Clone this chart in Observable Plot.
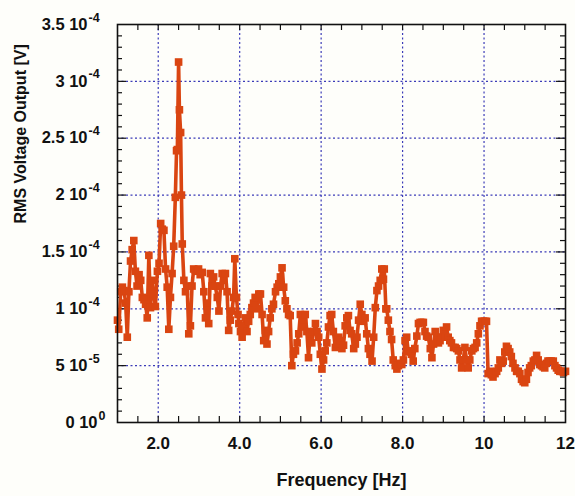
<!DOCTYPE html>
<html>
<head>
<meta charset="utf-8">
<script src="https://cdn.jsdelivr.net/npm/d3@7"></script>
<script src="https://cdn.jsdelivr.net/npm/@observablehq/plot@0.6"></script>
<style>
  html, body { margin: 0; padding: 0; background: #fefefa; }
</style>
</head>
<body>
<script>
// Frequency [Hz]
const freq = [
  1.00, 1.03, 1.08, 1.12, 1.16, 1.20, 1.24, 1.28, 1.32, 1.36, 1.40, 1.44, 1.48, 1.53, 1.57, 1.61, 1.65, 1.69, 1.73, 1.77,
  1.81, 1.85, 1.89, 1.93, 1.98, 2.02, 2.06, 2.10, 2.14, 2.18, 2.22, 2.26, 2.30, 2.34, 2.38, 2.42, 2.45, 2.47, 2.50, 2.52,
  2.55, 2.57, 2.59, 2.63, 2.67, 2.71, 2.75, 2.79, 2.83, 2.87, 2.91, 2.95, 2.99, 3.03, 3.08, 3.12, 3.16, 3.20, 3.24, 3.28,
  3.32, 3.36, 3.40, 3.45, 3.49, 3.53, 3.57, 3.61, 3.65, 3.69, 3.73, 3.77, 3.81, 3.85, 3.88, 3.92, 3.96, 3.98, 4.02, 4.06,
  4.10, 4.14, 4.18, 4.22, 4.26, 4.30, 4.34, 4.38, 4.42, 4.47, 4.51, 4.55, 4.59, 4.63, 4.67, 4.71, 4.75, 4.79, 4.83, 4.88,
  4.92, 4.96, 5.00, 5.04, 5.08, 5.12, 5.16, 5.20, 5.24, 5.28, 5.32, 5.37, 5.41, 5.45, 5.49, 5.53, 5.57, 5.61, 5.65, 5.69,
  5.73, 5.77, 5.82, 5.86, 5.90, 5.94, 5.98, 6.02, 6.06, 6.10, 6.14, 6.18, 6.22, 6.26, 6.30, 6.35, 6.39, 6.43, 6.47, 6.51,
  6.55, 6.59, 6.63, 6.67, 6.71, 6.75, 6.80, 6.84, 6.88, 6.92, 6.96, 7.00, 7.04, 7.08, 7.12, 7.16, 7.20, 7.25, 7.29, 7.33,
  7.37, 7.41, 7.45, 7.49, 7.53, 7.55, 7.59, 7.61, 7.65, 7.69, 7.73, 7.77, 7.82, 7.86, 7.90, 7.94, 7.98, 8.02, 8.06, 8.10,
  8.14, 8.18, 8.22, 8.26, 8.30, 8.35, 8.39, 8.43, 8.47, 8.51, 8.55, 8.59, 8.63, 8.68, 8.72, 8.76, 8.80, 8.84, 8.88, 8.92,
  8.96, 9.00, 9.04, 9.08, 9.12, 9.16, 9.20, 9.25, 9.29, 9.33, 9.37, 9.41, 9.45, 9.49, 9.53, 9.57, 9.61, 9.65, 9.70, 9.74,
  9.78, 9.82, 9.86, 9.90, 9.94, 9.98, 10.02, 10.06, 10.10, 10.14, 10.18, 10.22, 10.27, 10.31, 10.35, 10.39, 10.43, 10.47, 10.51, 10.55,
  10.59, 10.63, 10.67, 10.71, 10.76, 10.80, 10.84, 10.88, 10.92, 10.96, 11.00, 11.04, 11.08, 11.12, 11.16, 11.21, 11.25, 11.29, 11.33, 11.37,
  11.41, 11.45, 11.49, 11.53, 11.57, 11.61, 11.65, 11.70, 11.74, 11.78, 11.82, 11.86, 11.90, 11.95, 12.00
];
// RMS voltage output, in units of 1e-5 V
const rmsE5 = [
  9.0, 8.2, 11.5, 11.9, 11.6, 10.5, 7.5, 11.5, 14.2, 15.2, 16.0, 13.3, 12.0, 13.0, 12.5, 11.0, 10.8, 10.4, 9.2, 14.7,
  10.1, 12.5, 11.3, 10.2, 13.3, 14.0, 17.5, 17.0, 16.9, 13.5, 11.9, 8.2, 11.0, 13.1, 15.5, 19.8, 23.9, 24.0, 31.7, 27.5,
  25.5, 20.0, 15.7, 12.5, 11.5, 12.0, 7.8, 8.5, 12.0, 13.5, 13.4, 13.3, 13.5, 13.0, 13.2, 11.5, 9.2, 10.5, 8.7, 13.1,
  12.0, 12.8, 12.0, 11.0, 9.8, 12.0, 13.1, 12.5, 13.1, 11.5, 8.1, 9.0, 9.8, 11.0, 14.4, 11.0, 9.5, 8.7, 8.0, 7.5,
  8.5, 9.2, 8.0, 8.9, 9.5, 10.1, 10.5, 11.0, 10.0, 11.3, 11.3, 9.5, 7.2, 8.1, 6.9, 8.0, 9.2, 10.0, 10.4, 11.5,
  11.9, 12.2, 12.8, 13.6, 11.9, 10.7, 10.0, 9.5, 9.4, 5.0, 6.0, 6.3, 7.0, 7.8, 9.5, 8.4, 9.0, 9.5, 8.0, 5.7,
  7.8, 7.0, 8.0, 8.7, 8.0, 7.5, 6.0, 4.7, 5.5, 6.3, 7.0, 8.4, 9.4, 9.5, 8.0, 6.6, 6.9, 7.5, 7.2, 6.5,
  6.8, 8.5, 9.2, 9.4, 8.1, 7.8, 6.5, 6.9, 7.5, 9.0, 10.4, 9.5, 8.9, 9.2, 7.8, 6.5, 6.0, 5.4, 7.5, 10.1,
  11.6, 12.0, 12.5, 13.5, 12.6, 13.5, 10.0, 10.0, 9.0, 8.0, 7.3, 5.5, 5.0, 4.7, 5.0, 5.2, 5.1, 5.5, 7.2, 7.5,
  6.2, 6.3, 6.0, 5.4, 6.5, 7.6, 8.7, 8.8, 8.8, 8.8, 8.0, 7.6, 7.5, 6.5, 5.7, 6.9, 8.0, 7.5, 7.0, 7.2,
  7.5, 8.1, 7.5, 8.4, 7.5, 7.2, 7.0, 6.6, 6.6, 6.5, 6.3, 5.5, 4.8, 5.5, 6.6, 5.5, 4.8, 5.5, 6.3, 6.5,
  6.6, 7.0, 7.8, 8.5, 8.9, 8.9, 8.9, 8.9, 4.3, 4.5, 4.2, 4.0, 4.3, 4.5, 4.8, 5.5, 5.2, 5.4, 6.2, 6.7,
  6.5, 6.2, 5.8, 5.2, 4.8, 4.5, 4.5, 4.3, 3.8, 3.6, 3.5, 3.8, 4.4, 4.8, 5.0, 5.4, 5.5, 5.9, 5.5, 5.1,
  5.0, 4.9, 4.8, 5.2, 5.4, 5.4, 5.4, 5.4, 5.0, 4.8, 4.6, 4.5, 4.5, 4.4, 4.5
];

// Axis ticks and labels
const xTickVals = [2, 4, 6, 8, 10, 12];
const xTickLabels = ["2.0", "4.0", "6.0", "8.0", "10", "12"];
const xGridVals = [2, 4, 6, 8, 10];
const xMinorTicks = [1.5, 2, 2.5, 3, 3.5, 4, 4.5, 5, 5.5, 6, 6.5, 7, 7.5, 8, 8.5, 9, 9.5, 10, 10.5, 11, 11.5];
const yTickVals = [0, 5e-5, 1e-4, 1.5e-4, 2e-4, 2.5e-4, 3e-4, 3.5e-4];
const yTickMant = ["0 10", "5 10", "1 10", "1.5 10", "2 10", "2.5 10", "3 10", "3.5 10"];
const yTickExp = ["0", "-5", "-4", "-4", "-4", "-4", "-4", "-4"];
const yGridVals = [5e-5, 1e-4, 1.5e-4, 2e-4, 2.5e-4, 3e-4];
const yMinorTicks = [1e-5, 2e-5, 3e-5, 4e-5, 6e-5, 7e-5, 8e-5, 9e-5, 1.1e-4, 1.2e-4, 1.3e-4, 1.4e-4, 1.6e-4, 1.7e-4, 1.8e-4, 1.9e-4,
  2.1e-4, 2.2e-4, 2.3e-4, 2.4e-4, 2.6e-4, 2.7e-4, 2.8e-4, 2.9e-4, 3.1e-4, 3.2e-4, 3.3e-4, 3.4e-4];
const yMajorTicks = [5e-5, 1e-4, 1.5e-4, 2e-4, 2.5e-4, 3e-4];

const data = freq.map((f, i) => ({f, v: rmsE5[i] * 1e-5}));

const W = 575, H = 496, mL = 117, mR = 10, mT = 24, mB = 74;
const plotW = W - mL - mR, plotH = H - mT - mB;
const lineColor = "#da4511";
const gridColor = "#3b3bb8";
const font = "'Liberation Sans', Arial, sans-serif";

const yLabels = yTickVals.map((v, i) => ({v, m: yTickMant[i], e: yTickExp[i]}));
const yLabelsA = yLabels.filter(d => d.e !== "0");
const yLabelsB = yLabels.filter(d => d.e === "0");
const xLabels = xTickVals.map((v, i) => ({v, t: xTickLabels[i]}));

const chart = Plot.plot({
  width: W, height: H,
  marginLeft: mL, marginRight: mR, marginTop: mT, marginBottom: mB,
  x: {domain: [1, 12], axis: null},
  y: {domain: [0, 3.5e-4], axis: null},
  style: {background: "#fefefa", fontFamily: font, color: "#111"},
  marks: [
    Plot.gridX(xGridVals, {stroke: gridColor, strokeOpacity: 1, strokeWidth: 1.2, strokeDasharray: "2,2.5"}),
    Plot.gridY(yGridVals, {stroke: gridColor, strokeOpacity: 1, strokeWidth: 1.2, strokeDasharray: "2,2.5"}),
    // inward ticks: bottom & top
    Plot.ruleX(xMinorTicks, {x: d => d, insetTop: plotH - 6, stroke: "#111", strokeWidth: 1.2}),
    Plot.ruleX(xMinorTicks, {x: d => d, insetBottom: plotH - 6, stroke: "#111", strokeWidth: 1.2}),
    // inward ticks: left & right
    Plot.ruleY(yMinorTicks, {y: d => d, insetRight: plotW - 5, stroke: "#111", strokeWidth: 1.2}),
    Plot.ruleY(yMinorTicks, {y: d => d, insetLeft: plotW - 5, stroke: "#111", strokeWidth: 1.2}),
    Plot.ruleY(yMajorTicks, {y: d => d, insetRight: plotW - 9, stroke: "#111", strokeWidth: 1.2}),
    Plot.ruleY(yMajorTicks, {y: d => d, insetLeft: plotW - 9, stroke: "#111", strokeWidth: 1.2}),
    Plot.line(data, {x: "f", y: "v", stroke: lineColor, strokeWidth: 3.6, strokeLinejoin: "miter"}),
    Plot.dot(data, {x: "f", y: "v", symbol: "square", r: 4.3, fill: lineColor, stroke: "none"}),
    Plot.frame({stroke: "#111", strokeWidth: 1.6}),
    // x tick labels
    Plot.text(xLabels, {x: "v", text: "t", frameAnchor: "bottom", dy: 21, lineAnchor: "middle",
      fontSize: 17, fontWeight: "bold", fill: "#111"}),
    // y tick labels (mantissa + superscript exponent)
    Plot.text(yLabelsA, {y: "v", text: "m", frameAnchor: "left", dx: -30, textAnchor: "end", lineAnchor: "middle",
      fontSize: 16.5, fontWeight: "bold", fill: "#111"}),
    Plot.text(yLabelsA, {y: "v", text: "e", frameAnchor: "left", dx: -29, dy: -7, textAnchor: "start", lineAnchor: "middle",
      fontSize: 12.5, fontWeight: "bold", fill: "#111"}),
    Plot.text(yLabelsB, {y: "v", text: "m", frameAnchor: "left", dx: -20, textAnchor: "end", lineAnchor: "middle",
      fontSize: 16.5, fontWeight: "bold", fill: "#111"}),
    Plot.text(yLabelsB, {y: "v", text: "e", frameAnchor: "left", dx: -19, dy: -7, textAnchor: "start", lineAnchor: "middle",
      fontSize: 12.5, fontWeight: "bold", fill: "#111"}),
    // axis titles
    Plot.text(["Frequency [Hz]"], {frameAnchor: "bottom", dy: 58, lineAnchor: "middle",
      fontSize: 18, fontWeight: "bold", fill: "#111"}),
    Plot.text(["RMS Voltage Output [V]"], {frameAnchor: "left", dx: -97, rotate: -90, lineAnchor: "middle",
      fontSize: 16, fontWeight: "bold", fill: "#111"})
  ]
});
document.body.append(chart);
</script>
</body>
</html>
